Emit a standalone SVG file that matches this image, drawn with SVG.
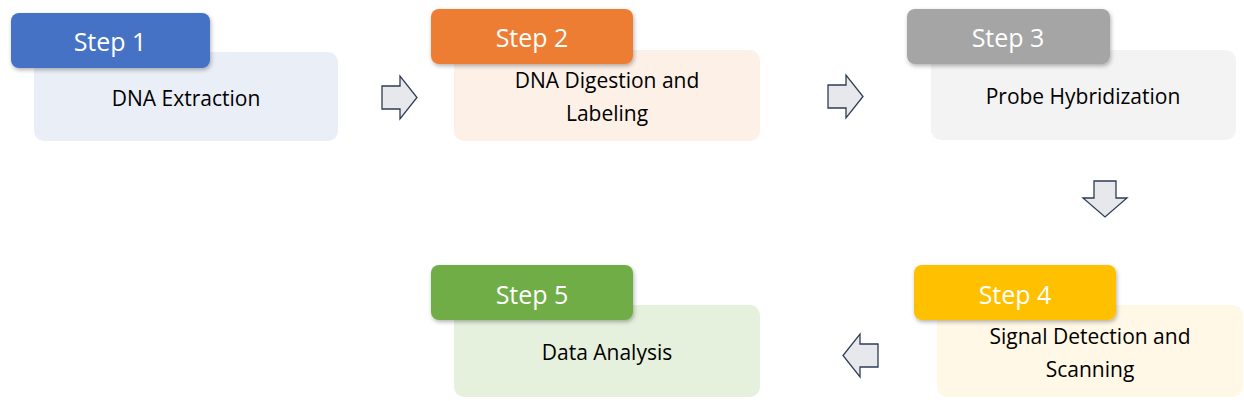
<svg xmlns="http://www.w3.org/2000/svg" width="1244" height="401" viewBox="0 0 1244 401">
<defs>
<style>
.box{stroke:none}
.tag{stroke:none}
.st{font-family:"Open Sans","Liberation Sans",sans-serif;font-size:25px;fill:#fff;text-anchor:middle}
.lb{font-family:"Open Sans","Liberation Sans",sans-serif;font-size:21px;fill:#000;text-anchor:middle}
.arr{fill:#E7E8EC;stroke:#2F3B55;stroke-width:1.3;stroke-linejoin:miter}
</style>
<filter id="sh" x="-10%" y="-10%" width="120%" height="130%"><feDropShadow dx="1" dy="2" stdDeviation="2" flood-opacity="0.3"/></filter>
</defs>
<g id="node1">
<rect class="box" x="34" y="52" width="304" height="89" rx="10" fill="#E9EEF7"/>
<rect class="tag" x="11" y="13" width="199" height="55" rx="8" fill="#4472C4" filter="url(#sh)"/>
<text class="st" x="110" y="51">Step 1</text>
<text class="lb" x="186" y="106">DNA Extraction</text>
</g>
<g id="node2">
<rect class="box" x="454" y="50" width="306" height="91" rx="10" fill="#FCF0E7"/>
<rect class="tag" x="431" y="9" width="202" height="55" rx="8" fill="#ED7D31" filter="url(#sh)"/>
<text class="st" x="532" y="47">Step 2</text>
<text class="lb" x="607" y="88">DNA Digestion and</text>
<text class="lb" x="607" y="121">Labeling</text>
</g>
<g id="node3">
<rect class="box" x="931" y="50" width="305" height="90" rx="10" fill="#F3F3F3"/>
<rect class="tag" x="907" y="9" width="203" height="55" rx="8" fill="#A5A5A5" filter="url(#sh)"/>
<text class="st" x="1008" y="47">Step 3</text>
<text class="lb" x="1083" y="104">Probe Hybridization</text>
</g>
<g id="node4">
<rect class="box" x="937" y="305" width="306" height="92" rx="10" fill="#FFF8E6"/>
<rect class="tag" x="914" y="265" width="202" height="55" rx="8" fill="#FFC000" filter="url(#sh)"/>
<text class="st" x="1015" y="304">Step 4</text>
<text class="lb" x="1090" y="344">Signal Detection and</text>
<text class="lb" x="1090" y="377">Scanning</text>
</g>
<g id="node5">
<rect class="box" x="454" y="305" width="306" height="92" rx="10" fill="#E5F1DD"/>
<rect class="tag" x="431" y="265" width="202" height="55" rx="8" fill="#70AD47" filter="url(#sh)"/>
<text class="st" x="532" y="304">Step 5</text>
<text class="lb" x="607" y="360">Data Analysis</text>
</g>
<g id="connectors">
<polygon class="arr" points="382,86 400,86 400,76 417,97.5 400,119 400,109 382,109"/>
<polygon class="arr" points="828,85 846,85 846,75 863,96.5 846,118 846,108 828,108"/>
<polygon class="arr" points="1094,181 1116,181 1116,198 1127,198 1105,217 1083,198 1094,198"/>
<polygon class="arr" points="878,344 860,344 860,334 843,355.5 860,377 860,367 878,367"/>
</g>
</svg>
